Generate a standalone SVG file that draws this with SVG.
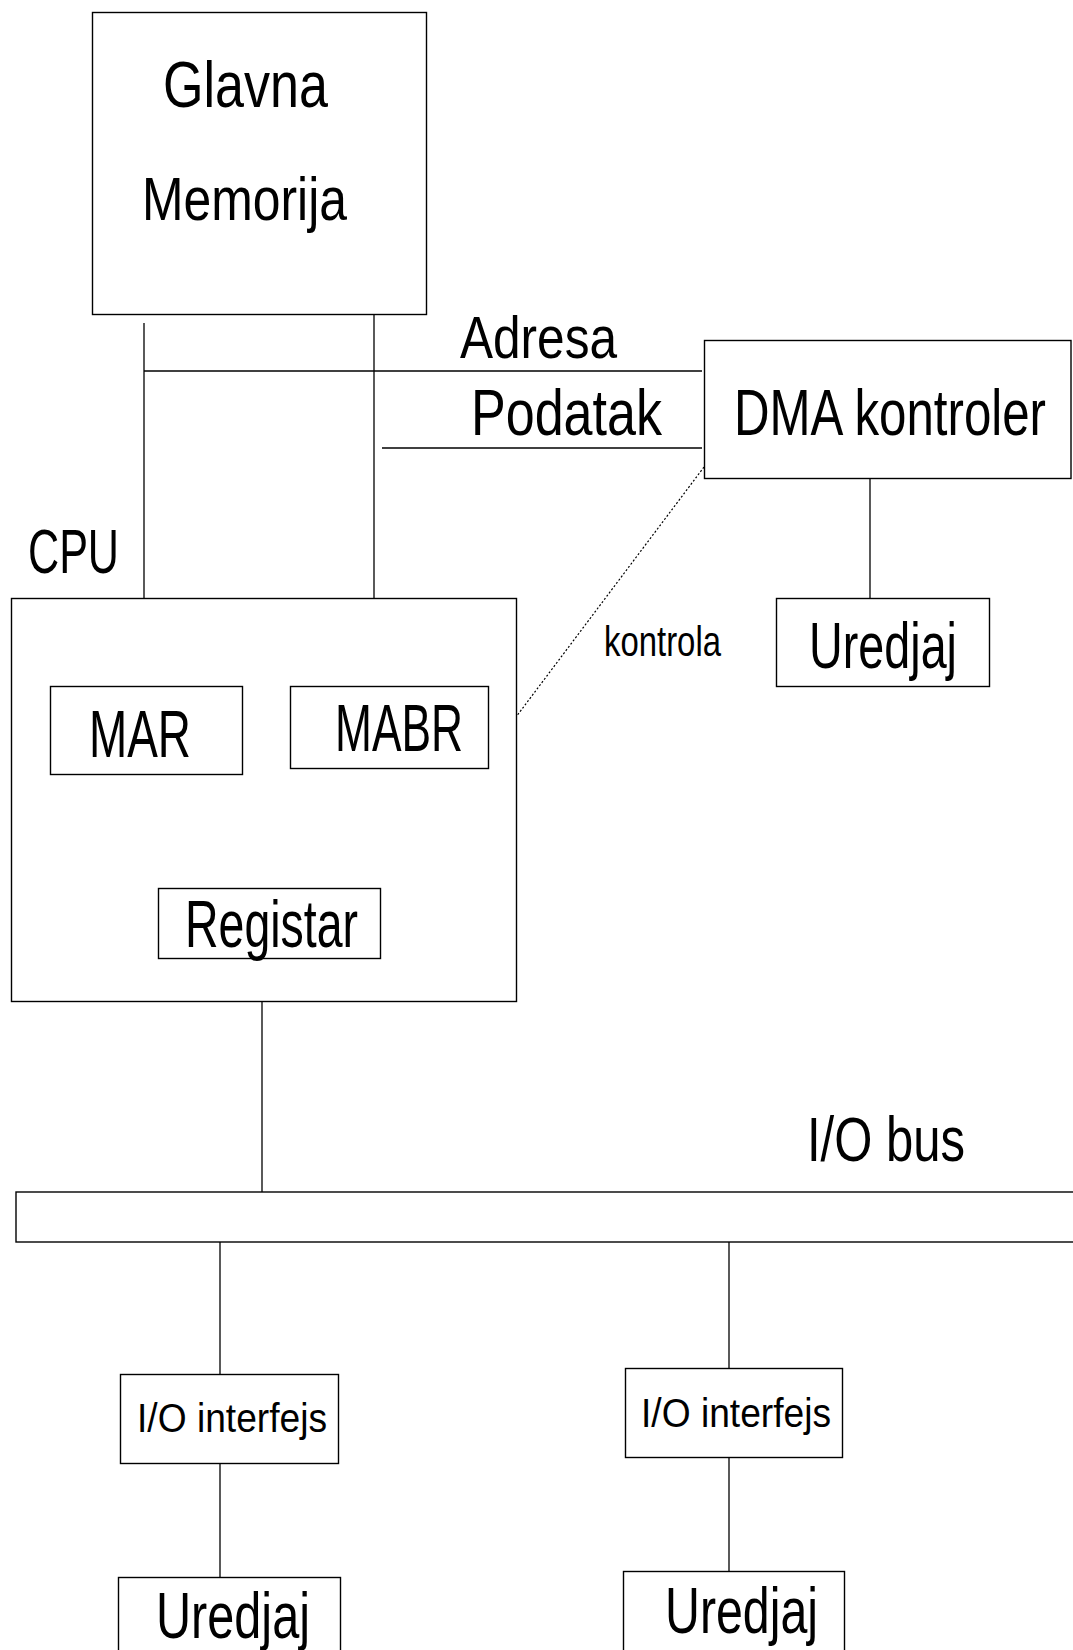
<svg xmlns="http://www.w3.org/2000/svg" width="1073" height="1650" viewBox="0 0 1073 1650">
<style>
.box{fill:#fff;stroke:#000;stroke-width:1.4}
.ln{stroke:#000;stroke-width:1.3;fill:none}
.dot{stroke:#000;stroke-width:1.2;fill:none;stroke-dasharray:2 2}
text{font-family:"Liberation Sans",Arial,sans-serif;fill:#000}
</style>
<rect width="1073" height="1650" fill="#fff"/>
<g id="connectors">
<line class="ln" x1="144" y1="323" x2="144" y2="686"/>
<line class="ln" x1="374" y1="314" x2="374" y2="686"/>
<line class="ln" x1="144" y1="371" x2="702" y2="371"/>
<line class="ln" x1="382" y1="448" x2="702" y2="448"/>
<line class="ln" x1="870" y1="478" x2="870" y2="598"/>
<line class="dot" x1="704" y1="467" x2="516" y2="717"/>
<line class="ln" x1="262" y1="958" x2="262" y2="1192"/>
<line class="ln" x1="220" y1="1242" x2="220" y2="1374"/>
<line class="ln" x1="220" y1="1463" x2="220" y2="1577"/>
<line class="ln" x1="729" y1="1242" x2="729" y2="1368"/>
<line class="ln" x1="729" y1="1457" x2="729" y2="1571"/>
</g>
<g id="labels">
<text x="460" y="358" font-size="60" textLength="157" lengthAdjust="spacingAndGlyphs">Adresa</text>
<text x="471" y="435" font-size="64" textLength="191" lengthAdjust="spacingAndGlyphs">Podatak</text>
<text x="604" y="656" font-size="42" textLength="117" lengthAdjust="spacingAndGlyphs">kontrola</text>
<text x="28" y="573" font-size="63" textLength="91" lengthAdjust="spacingAndGlyphs">CPU</text>
<text x="807" y="1161" font-size="63" textLength="158" lengthAdjust="spacingAndGlyphs">I/O bus</text>
</g>
<g id="memory">
<rect class="box" x="92.5" y="12.5" width="334" height="302"/>
<text x="163" y="107" font-size="64" textLength="165" lengthAdjust="spacingAndGlyphs">Glavna</text>
<text x="142" y="220" font-size="62" textLength="205" lengthAdjust="spacingAndGlyphs">Memorija</text>
</g>
<g id="dma">
<rect class="box" x="704.5" y="340.5" width="366.5" height="138"/>
<text x="734" y="435" font-size="65" textLength="312" lengthAdjust="spacingAndGlyphs">DMA kontroler</text>
</g>
<g id="uredjaj-dma">
<rect class="box" x="776.5" y="598.5" width="213" height="88"/>
<text x="809" y="668" font-size="64" textLength="148" lengthAdjust="spacingAndGlyphs">Uredjaj</text>
</g>
<g id="cpu">
<rect class="box" x="11.5" y="598.5" width="505" height="403" fill="none"/>
</g>
<g id="mar">
<rect class="box" x="50.5" y="686.5" width="192" height="88"/>
<text x="89" y="757" font-size="66" textLength="102" lengthAdjust="spacingAndGlyphs">MAR</text>
</g>
<g id="mabr">
<rect class="box" x="290.5" y="686.5" width="198" height="82"/>
<text x="335" y="751" font-size="67" textLength="128" lengthAdjust="spacingAndGlyphs">MABR</text>
</g>
<g id="registar">
<rect class="box" x="158.5" y="888.5" width="222" height="70"/>
<text x="185" y="947" font-size="66" textLength="173" lengthAdjust="spacingAndGlyphs">Registar</text>
</g>
<g id="io-bus">
<rect class="box" x="16" y="1192" width="1080" height="50"/>
</g>
<g id="io-interfejs-1">
<rect class="box" x="120.5" y="1374.5" width="218" height="89"/>
<text x="137" y="1432" font-size="40" textLength="190" lengthAdjust="spacingAndGlyphs">I/O interfejs</text>
</g>
<g id="io-interfejs-2">
<rect class="box" x="625.5" y="1368.5" width="217" height="89"/>
<text x="641" y="1427" font-size="40" textLength="190" lengthAdjust="spacingAndGlyphs">I/O interfejs</text>
</g>
<g id="uredjaj-1">
<rect class="box" x="118.5" y="1577.5" width="222" height="100"/>
<text x="156" y="1638" font-size="64" textLength="154" lengthAdjust="spacingAndGlyphs">Uredjaj</text>
</g>
<g id="uredjaj-2">
<rect class="box" x="623.5" y="1571.5" width="221" height="100"/>
<text x="665" y="1633" font-size="64" textLength="153" lengthAdjust="spacingAndGlyphs">Uredjaj</text>
</g>
</svg>
